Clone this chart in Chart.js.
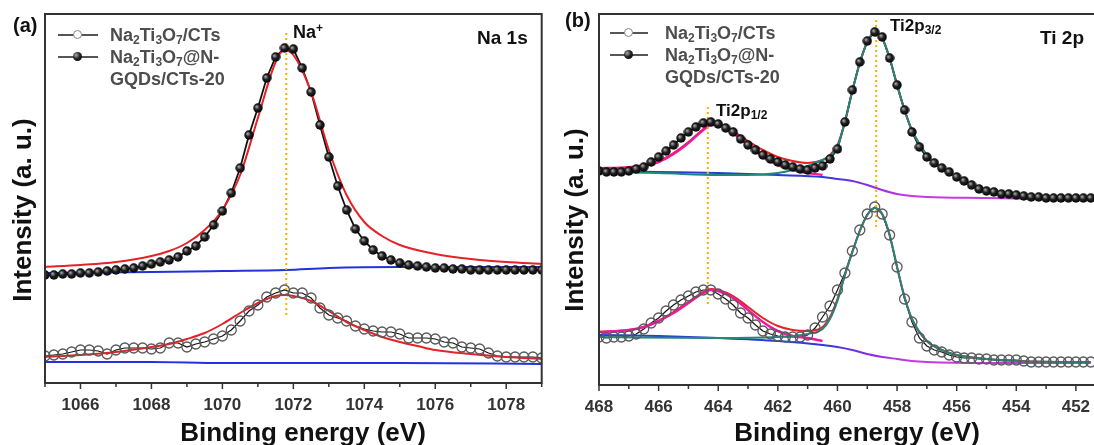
<!DOCTYPE html>
<html>
<head>
<meta charset="utf-8">
<script src="https://cdn.jsdelivr.net/npm/chart.js@4.4.1/dist/chart.umd.min.js"></script>
<style>
  html, body { margin:0; padding:0; background:#fff; overflow:hidden; }
  #wrap { position:relative; width:1094px; height:445px; overflow:hidden; font-family: Arial, "Liberation Sans", sans-serif; }
  canvas { position:absolute; top:0; }
  #naChart { left:0; }
  #tiChart { left:554px; }
  .lbl { position:absolute; font-weight:bold; white-space:nowrap; color:#111; }
  .axt { position:absolute; font-weight:bold; white-space:nowrap; color:#111; font-size:26px; line-height:30px; transform:translate(-50%, -50%); }
  .axt.v { transform:translate(-50%, -50%) rotate(-90deg); }
  .legend { position:absolute; font-weight:bold; font-size:18px; line-height:22px; color:#4d4d4d; white-space:nowrap; }
  .legend .row { position:relative; height:22px; }
  .sym { position:absolute; left:0; top:10px; height:0; border-top:2px solid #555; }
  .sym i { position:absolute; top:-6px; width:9px; height:9px; border-radius:50%; box-sizing:border-box; }
  .sym i.open { border:1.5px solid #888; background:#fff; }
  .sym i.full { background:radial-gradient(circle at 35% 35%, #aaa 0, #222 45%, #000 100%); }
  sub { font-size:12px; vertical-align:-3px; line-height:0; }
  sup { font-size:12px; vertical-align:6px; line-height:0; }
</style>
</head>
<body>
<div id="wrap">
  <canvas id="naChart" width="548" height="445"></canvas>
  <canvas id="tiChart" width="558" height="445"></canvas>

  <div class="lbl" style="left:13px;top:13px;font-size:20px;line-height:24px">(a)</div>
  <div class="lbl" style="left:565px;top:8px;font-size:20px;line-height:24px">(b)</div>

  <div class="axt v" style="left:22px;top:210px">Intensity (a. u.)</div>
  <div class="axt v" style="left:574px;top:220px">Intensity (a. u.)</div>
  <div class="axt" style="left:303px;top:432px">Binding energy (eV)</div>
  <div class="axt" style="left:857px;top:432px">Binding energy (eV)</div>

  <div class="legend" style="left:58px;top:24px">
    <div class="row" style="padding-left:52px"><span class="sym" style="width:40px"><i class="open" style="left:15px"></i></span>Na<sub>2</sub>Ti<sub>3</sub>O<sub>7</sub>/CTs</div>
    <div class="row" style="padding-left:52px"><span class="sym" style="width:40px"><i class="full" style="left:15px"></i></span>Na<sub>2</sub>Ti<sub>3</sub>O<sub>7</sub>@N-</div>
    <div class="row" style="padding-left:52px">GQDs/CTs-20</div>
  </div>
  <div class="legend" style="left:610px;top:22px">
    <div class="row" style="padding-left:55px"><span class="sym" style="width:38px"><i class="open" style="left:14px"></i></span>Na<sub>2</sub>Ti<sub>3</sub>O<sub>7</sub>/CTs</div>
    <div class="row" style="padding-left:55px"><span class="sym" style="width:38px"><i class="full" style="left:14px"></i></span>Na<sub>2</sub>Ti<sub>3</sub>O<sub>7</sub>@N-</div>
    <div class="row" style="padding-left:55px">GQDs/CTs-20</div>
  </div>

  <div class="lbl" style="left:293px;top:22px;font-size:18px;line-height:20px">Na<sup>+</sup></div>
  <div class="lbl" style="left:477px;top:27px;font-size:19px;line-height:22px">Na 1s</div>
  <div class="lbl" style="left:890px;top:16px;font-size:17px;line-height:20px">Ti2p<sub>3/2</sub></div>
  <div class="lbl" style="left:716px;top:101px;font-size:17px;line-height:20px">Ti2p<sub>1/2</sub></div>
  <div class="lbl" style="left:1040px;top:27px;font-size:19px;line-height:22px">Ti 2p</div>
</div>

<script>
// ---- Na 1s spectra (binding energy in eV, intensity in a.u.) ----
const naEnergy = [1065, 1065.25, 1065.5, 1065.75, 1066, 1066.25, 1066.5, 1066.75, 1067, 1067.25,
  1067.5, 1067.75, 1068, 1068.25, 1068.5, 1068.75, 1069, 1069.25, 1069.5, 1069.75,
  1070, 1070.25, 1070.5, 1070.75, 1071, 1071.25, 1071.5, 1071.75, 1072, 1072.25,
  1072.5, 1072.75, 1073, 1073.25, 1073.5, 1073.75, 1074, 1074.25, 1074.5, 1074.75,
  1075, 1075.25, 1075.5, 1075.75, 1076, 1076.25, 1076.5, 1076.75, 1077, 1077.25,
  1077.5, 1077.75, 1078, 1078.25, 1078.5, 1078.75, 1079];
const naGqds = [108, 108, 109, 109, 110, 110, 111, 112, 113, 114,
  115, 117, 119, 121, 123, 126, 132, 137, 146, 158,
  172, 190, 215, 248, 275, 305, 326, 335, 334, 315,
  291, 258, 226, 197, 173, 154, 142, 133, 127, 123,
  120, 118, 117, 116, 115, 115, 114, 114, 113, 113,
  113, 113, 113, 113, 113, 113, 113];
const naCts = [27, 28, 29, 31, 33, 33, 32, 29, 33, 35,
  35, 35, 34, 35, 40, 40, 36, 39, 41, 44,
  47, 53, 62, 72, 78, 86, 90, 93, 90, 90,
  85, 75, 68, 65, 62, 57, 54, 52, 51, 51,
  49, 45, 45, 45, 44, 41, 40, 36, 35, 34,
  30, 27, 26, 26, 26, 26, 25];

// fitted envelopes and Shirley backgrounds
const naFitGqdsE = [1065, 1066, 1067, 1068, 1068.5, 1069, 1069.5, 1070, 1070.5, 1071, 1071.5, 1071.75,
  1072, 1072.5, 1073, 1073.5, 1074, 1074.5, 1075, 1076, 1077, 1078, 1079];
const naFitGqds = [116, 118, 121, 127, 132, 140, 153, 173, 208, 265, 321, 333,
  328, 291, 233, 188, 161, 147, 138, 129, 124, 121, 119];
const naFitCtsE = [1065, 1066, 1067, 1068, 1068.5, 1069, 1069.5, 1070, 1070.5, 1071, 1071.5, 1071.75,
  1072, 1072.5, 1073, 1073.5, 1074, 1074.5, 1075, 1075.5, 1076, 1077, 1078, 1079];
const naFitCts = [26, 28, 31, 36, 39, 44, 50, 59, 70, 80, 87, 88,
  87, 82, 72, 61, 53, 46, 41, 37, 33, 29, 26, 24];
const naBgE = [1065, 1068, 1070, 1071.8, 1073, 1075, 1079];
const naBgGqds = [110, 111, 112, 113, 115, 116, 116];
const naBgCts = [21, 21, 20, 20, 20, 20, 19];
const naPeak = 1071.8;

// ---- Ti 2p spectra ----
const tiEnergy = [468, 467.75, 467.5, 467.25, 467, 466.75, 466.5, 466.25, 466, 465.75,
  465.5, 465.25, 465, 464.75, 464.5, 464.25, 464, 463.75, 463.5, 463.25,
  463, 462.75, 462.5, 462.25, 462, 461.75, 461.5, 461.25, 461, 460.75,
  460.5, 460.25, 460, 459.75, 459.5, 459.25, 459, 458.75, 458.5, 458.25,
  458, 457.75, 457.5, 457.25, 457, 456.75, 456.5, 456.25, 456, 455.75,
  455.5, 455.25, 455, 454.75, 454.5, 454.25, 454, 453.75, 453.5, 453.25,
  453, 452.75, 452.5, 452.25, 452, 451.75, 451.5];
const tiGqds = [214, 213, 213, 213, 214, 216, 218, 223, 228, 234,
  240, 247, 253, 258, 262, 263, 261, 257, 253, 246,
  240, 235, 230, 226, 223, 220, 218, 216, 215, 217,
  219, 226, 236, 263, 295, 323, 344, 353, 348, 327,
  300, 275, 253, 238, 228, 222, 217, 213, 208, 204,
  200, 196, 194, 193, 191, 191, 190, 189, 188, 188,
  187, 187, 187, 187, 187, 187, 187];
const tiCts = [48, 47, 48, 48, 49, 51, 56, 62, 67, 74,
  80, 85, 89, 93, 95, 95, 91, 86, 80, 72,
  67, 60, 54, 51, 49, 48, 48, 48, 50, 57,
  68, 79, 95, 112, 134, 155, 171, 178, 171, 150,
  118, 86, 63, 47, 39, 35, 33, 30, 28, 27,
  27, 26, 26, 25, 25, 25, 25, 24, 23, 23,
  23, 23, 23, 23, 23, 23, 23];

const tiSumGqdsE = [468, 467, 466.5, 466, 465.5, 465, 464.5, 464.25, 464, 463.75, 463.5, 463, 462.5, 462, 461.5,
  461, 460.5, 460.25, 460, 459.75, 459.5, 459.25, 459, 458.75, 458.5, 458.25, 458, 457.75, 457.5,
  457, 456.5, 456, 455.5, 455, 454, 453, 452, 451.5];
const tiSumGqds = [217, 218, 220, 224, 232, 243, 256, 261, 261, 259, 254, 244, 235, 228, 224,
  222, 225, 230, 240, 263, 294, 322, 343, 353, 347, 327, 300, 275, 255,
  230, 217, 208, 200, 195, 190, 188, 187, 187];
const tiP32GqdsE = [468, 466, 464, 463, 462, 461.5, 461, 460.5, 460.25, 460, 459.75, 459.5, 459.25, 459, 458.75,
  458.5, 458.25, 458, 457.75, 457.5, 457, 456.5, 456, 455.5, 455, 454, 453, 452, 451.5];
const tiP32Gqds = [213, 212, 210, 210, 212, 215, 219, 225, 229, 238, 263, 294, 322, 343, 353,
  347, 327, 300, 275, 255, 230, 217, 208, 200, 195, 190, 188, 187, 187];
const tiP12GqdsE = [468, 467, 466.5, 466, 465.5, 465, 464.5, 464.25, 464, 463.75, 463.5, 463, 462.5, 462, 461.5, 461, 460.5];
const tiP12Gqds = [216, 217, 219, 223, 231, 242, 255, 260, 260, 258, 252, 240, 228, 220, 215, 212, 210];
const tiBgE = [468, 466, 464, 462, 460.5, 460, 459.5, 459, 458.5, 458, 457.5, 457, 455, 451.5];
const tiBgGqds = [214, 213, 212, 210, 208, 206, 204, 200, 195, 191, 189, 188, 187, 185];

const tiSumCtsE = [468, 467, 466.5, 466, 465.5, 465, 464.5, 464.25, 464, 463.5, 463, 462.5, 462, 461.5, 461,
  460.5, 460.25, 460, 459.75, 459.5, 459.25, 459, 458.75, 458.5, 458.25, 458, 457.75, 457.5, 457,
  456.5, 456, 455, 454, 452, 451.5];
const tiSumCts = [53, 55, 58, 64, 73, 83, 93, 96, 95, 89, 78, 67, 59, 55, 54,
  58, 68, 86, 110, 133, 154, 170, 177, 171, 150, 118, 88, 66, 44,
  35, 30, 26, 24, 23, 23];
const tiP32CtsE = [468, 464, 462, 461.5, 461, 460.5, 460.25, 460, 459.75, 459.5, 459.25, 459, 458.75, 458.5,
  458.25, 458, 457.75, 457.5, 457, 456.5, 456, 455, 454, 452, 451.5];
const tiP32Cts = [48, 47, 48, 49, 51, 56, 66, 84, 110, 133, 154, 170, 177, 171,
  150, 118, 88, 66, 44, 35, 30, 26, 24, 23, 23];
const tiP12CtsE = [468, 467, 466.5, 466, 465.5, 465, 464.5, 464.25, 464, 463.5, 463, 462.5, 462, 461.5, 461, 460.5];
const tiP12Cts = [53, 55, 58, 64, 72, 82, 92, 95, 94, 87, 75, 63, 54, 49, 47, 44];
const tiBgCts = [50, 49, 47, 44, 40, 38, 35, 31, 28, 26, 24, 23, 22, 22];
const tiPeak12 = 464.35;
const tiPeak32 = 458.7;

const FONT = 'Arial, "Liberation Sans", sans-serif';
const RED = '#e42228', BLUE = '#2233dd', PINK = '#f0189c', TEAL = '#20877c', GOLD = '#f5b000';

function pts(xs, ys) { return xs.map((x, i) => ({ x, y: ys[i] })); }

function fitLine(xs, ys, color, width) {
  return { data: pts(xs, ys), showLine: true, borderColor: color, borderWidth: width || 2,
    pointRadius: 0, tension: 0.4, cubicInterpolationMode: 'monotone', fill: false };
}

function marker(x, y0, y1) {
  return { data: pts([x, x], [y0, y1]), showLine: true, borderColor: GOLD, borderWidth: 2,
    borderDash: [2, 3], pointRadius: 0 };
}

// small shaded ball used for the filled markers
function makeSphere(d) {
  const c = document.createElement('canvas');
  c.width = d; c.height = d;
  const g = c.getContext('2d');
  const r = d / 2;
  const grad = g.createRadialGradient(r * 0.7, r * 0.7, 0.4, r, r, r);
  grad.addColorStop(0, '#a8a8a8');
  grad.addColorStop(0.45, '#222');
  grad.addColorStop(1, '#000');
  g.fillStyle = grad;
  g.beginPath(); g.arc(r, r, r - 0.3, 0, Math.PI * 2); g.fill();
  return c;
}
const sphere = makeSphere(10);

// the measured curves are split into a connecting line (drawn under the fits)
// and the markers themselves (drawn above everything)
function traceLine(xs, ys, width) {
  return { data: pts(xs, ys), showLine: true, borderColor: '#111', borderWidth: width, tension: 0, pointRadius: 0 };
}
function filledPoints(xs, ys) {
  return { data: pts(xs, ys), showLine: false, pointStyle: sphere, pointRadius: 5 };
}
function openPoints(xs, ys) {
  return { data: pts(xs, ys), showLine: false, pointRadius: 5,
    pointBackgroundColor: 'rgba(255,255,255,0)', pointBorderColor: '#5a5a5a', pointBorderWidth: 1.3 };
}

// background line fades from blue to violet across the Ti2p3/2 step
function bgGradient(context) {
  const chart = context.chart;
  if (!chart.chartArea) return BLUE;
  const xs = chart.scales.x;
  const g = chart.ctx.createLinearGradient(xs.getPixelForValue(460.5), 0, xs.getPixelForValue(457.5), 0);
  g.addColorStop(0, '#2b3bd8');
  g.addColorStop(0.5, '#8a2be8');
  g.addColorStop(1, '#c83ae0');
  return g;
}

// box frame plus outward major/minor ticks on the energy axis
const framePlugin = {
  id: 'frame',
  afterDatasetsDraw(chart) {
    const { ctx, chartArea: a, scales: { x } } = chart;
    ctx.save();
    ctx.strokeStyle = '#333';
    ctx.lineWidth = 2;
    ctx.strokeRect(a.left, a.top, a.right - a.left, a.bottom - a.top);
    ctx.lineWidth = 1.5;
    x.ticks.forEach(t => {
      const px = x.getPixelForValue(t.value);
      const len = t.value % 2 === 0 ? 6 : 4;
      ctx.beginPath();
      ctx.moveTo(px, a.bottom);
      ctx.lineTo(px, a.bottom + len);
      ctx.stroke();
    });
    ctx.restore();
  }
};

function makeOptions(xmin, xmax, reverse, ymax, xHeight) {
  return {
    responsive: false,
    animation: false,
    layout: { padding: { top: 14, right: 3, left: 0, bottom: 0 } },
    plugins: { legend: { display: false }, tooltip: { enabled: false } },
    scales: {
      x: {
        type: 'linear', min: xmin, max: xmax, reverse,
        afterFit: s => { s.height = xHeight; s.paddingLeft = 0; s.paddingRight = 0; },
        grid: { display: false, drawTicks: false },
        border: { display: false },
        ticks: { stepSize: 1, padding: 12, autoSkip: false, maxRotation: 0, color: '#333',
          font: { family: FONT, size: 17, weight: 'bold' },
          callback: v => (v % 2 === 0 ? String(v) : '') }
      },
      y: {
        min: 0, max: ymax,
        afterFit: s => { s.width = 45; },
        grid: { display: false, drawTicks: false },
        border: { display: false },
        ticks: { display: false }
      }
    }
  };
}

new Chart(document.getElementById('naChart'), {
  type: 'scatter',
  data: { datasets: [
    filledPoints(naEnergy, naGqds),
    openPoints(naEnergy, naCts),
    marker(naPeak, 350, 65),
    fitLine(naFitGqdsE, naFitGqds, RED),
    fitLine(naFitCtsE, naFitCts, RED),
    fitLine(naBgE, naBgGqds, BLUE),
    fitLine(naBgE, naBgCts, BLUE),
    traceLine(naEnergy, naGqds, 1.8),
    traceLine(naEnergy, naCts, 1.2)
  ] },
  options: makeOptions(1065, 1079, false, 369, 62),
  plugins: [framePlugin]
});

new Chart(document.getElementById('tiChart'), {
  type: 'scatter',
  data: { datasets: [
    filledPoints(tiEnergy, tiGqds),
    openPoints(tiEnergy, tiCts),
    marker(tiPeak12, 278, 78),
    marker(tiPeak32, 365, 157),
    fitLine(tiP32GqdsE, tiP32Gqds, TEAL),
    fitLine(tiP32CtsE, tiP32Cts, TEAL),
    fitLine(tiP12GqdsE, tiP12Gqds, PINK, 2.5),
    fitLine(tiP12CtsE, tiP12Cts, PINK, 2.5),
    fitLine(tiSumGqdsE, tiSumGqds, RED),
    fitLine(tiSumCtsE, tiSumCts, RED),
    fitLine(tiBgE, tiBgGqds, bgGradient),
    fitLine(tiBgE, tiBgCts, bgGradient),
    traceLine(tiEnergy, tiGqds, 1.8),
    traceLine(tiEnergy, tiCts, 1.2)
  ] },
  options: makeOptions(451, 468, true, 371, 60),
  plugins: [framePlugin]
});
</script>
</body>
</html>
